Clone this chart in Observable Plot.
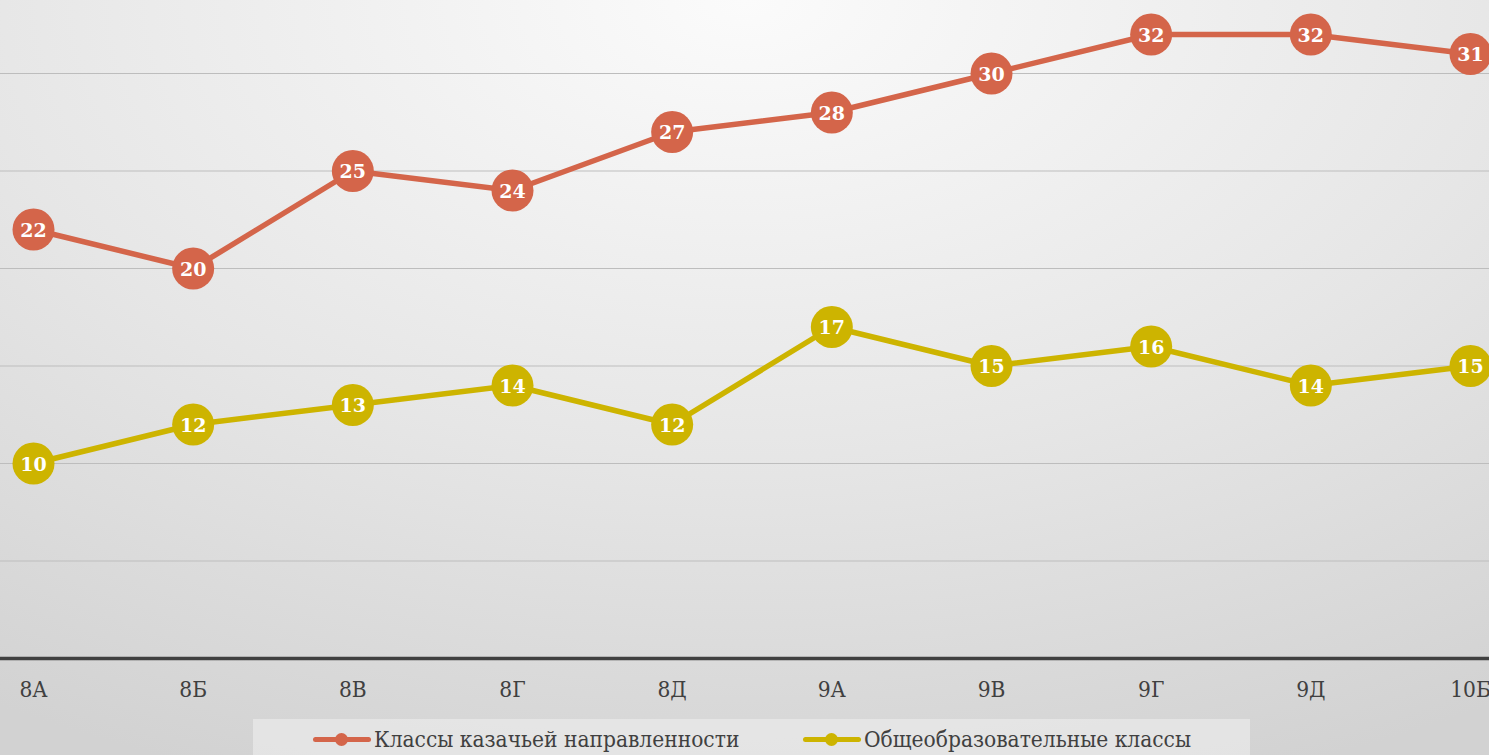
<!DOCTYPE html>
<html><head><meta charset="utf-8">
<script src="https://cdn.jsdelivr.net/npm/d3@7"></script>
<script src="https://cdn.jsdelivr.net/npm/@observablehq/plot@0.6"></script>
<style>
html,body{margin:0;padding:0;}
body{width:1489px;height:755px;overflow:hidden;position:relative;
 background: radial-gradient(ellipse 95% 110% at 50% 0%, #fbfbfb 0%, #e6e6e6 55%, #d2d2d2 100%);}
#chart svg{display:block;background:transparent;}
#legend{position:absolute;left:253px;top:719px;width:997px;height:40px;background:rgba(240,240,240,0.55);
 font-family:"DejaVu Serif Condensed","DejaVu Serif",serif;font-stretch:condensed;font-size:22.5px;color:#404040;}
.item{position:absolute;top:7px;display:flex;align-items:center;white-space:nowrap;}
.sw{position:relative;width:58px;height:22px;margin-right:3px;}
.sw .ln{position:absolute;left:0;right:0;top:9px;height:5px;border-radius:3px;}
.sw .dt{position:absolute;left:22px;top:5px;width:13px;height:13px;border-radius:50%;}
</style></head>
<body>
<div id="chart"></div>
<div id="legend"></div>
<script>
const classes = ["8А","8Б","8В","8Г","8Д","9А","9В","9Г","9Д","10Б"];
const cossack = [22,20,25,24,27,28,30,32,32,31];
const general = [10,12,13,14,12,17,15,16,14,15];
const seriesNames = ["Классы казачьей направленности","Общеобразовательные классы"];
const colors = ["#d4654a","#cdb400"];
const gridValues = [5,10,15,20,25,30];

const data = [];
classes.forEach((c,i)=>{
  data.push({cls:c, v:cossack[i], s:seriesNames[0]});
  data.push({cls:c, v:general[i], s:seriesNames[1]});
});

const plot = Plot.plot({
  width:1489, height:715,
  marginTop:0, marginBottom:57, marginLeft:0, marginRight:0,
  style:{background:"transparent", fontFamily:"DejaVu Serif, serif"},
  x:{type:"point", domain:classes, range:[33,1470], padding:0, round:false, label:null},
  y:{domain:[0,30], range:[658,73], axis:null},
  color:{domain:seriesNames, range:colors},
  marks:[
    Plot.ruleY(gridValues,{stroke:"#bdbdbd", strokeWidth:1.2}),
    Plot.ruleY([0],{stroke:"#404040", strokeWidth:3.5}),
    Plot.axisX({tickSize:0, tickPadding:23, fontSize:22.5, fill:"#404040", label:null,
      fontFamily:"DejaVu Serif Condensed, DejaVu Serif, serif", fontStretch:"condensed"}),
    Plot.line(data,{x:"cls", y:"v", z:"s", stroke:"s", strokeWidth:5.5}),
    Plot.dot(data,{x:"cls", y:"v", fill:"s", r:21}),
    Plot.text(data,{x:"cls", y:"v", text:d=>String(d.v), fill:"white", fontSize:19, fontWeight:"bold", fontFamily:"DejaVu Serif, serif", dy:1})
  ]
});
document.getElementById("chart").appendChild(plot);

const leg = document.getElementById("legend");
const lefts = [60, 550];
seriesNames.forEach((n,i)=>{
  const it = document.createElement("div");
  it.className="item"; it.style.left = lefts[i]+"px";
  it.innerHTML = `<div class="sw"><div class="ln" style="background:${colors[i]}"></div><div class="dt" style="background:${colors[i]}"></div></div><span>${n}</span>`;
  leg.appendChild(it);
});
</script>
</body></html>
